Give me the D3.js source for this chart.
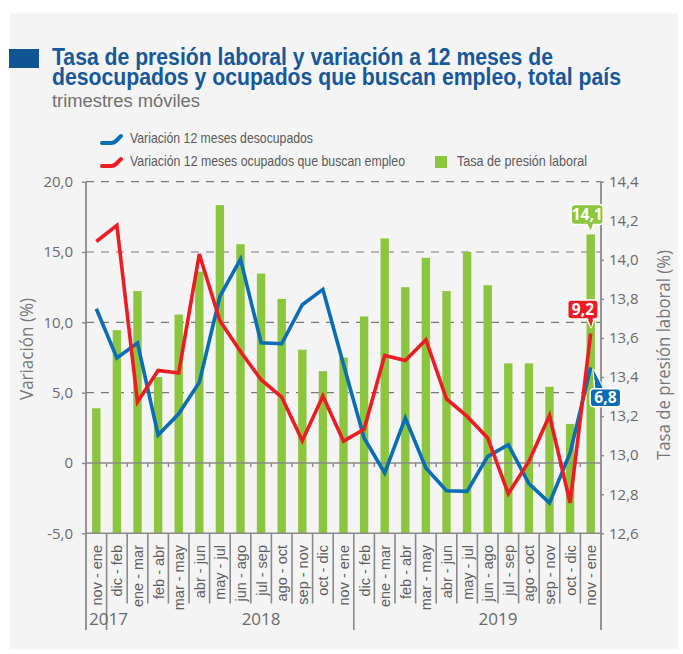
<!DOCTYPE html>
<html>
<head>
<meta charset="utf-8">
<script src="https://cdn.jsdelivr.net/npm/d3@7"></script>
<style>
  html, body { margin: 0; padding: 0; background: #ffffff; }
  svg { display: block; }
</style>
</head>
<body>
<svg id="chart" width="683" height="654"></svg>
<script>
// ---------------- DATA ----------------
const categories = ["nov - ene","dic - feb","ene - mar","feb - abr","mar - may","abr - jun","may - jul","jun - ago","jul - sep","ago - oct","sep - nov","oct - dic","nov - ene","dic - feb","ene - mar","feb - abr","mar - may","abr - jun","may - jul","jun - ago","jul - sep","ago - oct","sep - nov","oct - dic","nov - ene"];
const variacionDesocupados = [10.97,7.46,8.53,1.99,3.50,5.73,11.84,14.5,8.55,8.48,11.25,12.34,7.0,1.78,-0.71,3.2,-0.36,-1.97,-2.02,0.47,1.30,-1.47,-2.84,0.71,6.8];
const variacionOcupadosBuscan = [15.75,16.89,4.34,6.58,6.40,14.85,10.11,7.93,5.92,4.69,1.58,4.76,1.55,2.4,7.65,7.29,8.76,4.55,3.31,1.78,-2.18,0.11,3.38,-2.84,9.2];
const tasaPresion = [13.24,13.64,13.84,13.40,13.72,13.94,14.28,14.08,13.93,13.80,13.54,13.43,13.50,13.71,14.11,13.86,14.01,13.84,14.04,13.87,13.47,13.47,13.35,13.16,14.13];
const leftTicks = [-5,0,5,10,15,20];
const rightTicks = [12.6,12.8,13.0,13.2,13.4,13.6,13.8,14.0,14.2,14.4];
const years = ["2017","2018","2019"];
const yearStartIndex = [0,1,13];
const seriesNames = ["Variación 12 meses desocupados","Variación 12 meses ocupados que buscan empleo","Tasa de presión laboral"];
const titleLines = ["Tasa de presión laboral y variación a 12 meses de","desocupados y ocupados que buscan empleo, total país"];
const subtitle = "trimestres móviles";

// ---------------- LAYOUT ----------------
const C = { blue:"#0a6db5", red:"#ec1c24", green:"#8cc63f", title:"#17589a", grey:"#6a6a6a", axis:"#8a8a8a", grid:"#7a7a7a", bg:"#f4f4f4" };
const L = { x0:86, x1:601, yTop:181.7, yBot:533.3 };
const svg = d3.select("#chart");
const fmt1 = v => d3.format(".1f")(v).replace(".", ",").replace("\u2212", "-");

svg.append("rect").attr("x",10).attr("y",13).attr("width",668).attr("height",636).attr("fill",C.bg);

// Title
svg.append("rect").attr("x",9).attr("y",49).attr("width",30).attr("height",19).attr("fill","#0f5593");
svg.append("text").attr("x",52).attr("y",65).text(titleLines[0])
  .attr("font-family","'Liberation Sans Narrow', 'Arial Narrow', sans-serif").attr("font-weight","bold")
  .attr("font-size",23.5).attr("fill",C.title).attr("textLength",501).attr("lengthAdjust","spacingAndGlyphs");
svg.append("text").attr("x",52).attr("y",85).text(titleLines[1])
  .attr("font-family","'Liberation Sans Narrow', 'Arial Narrow', sans-serif").attr("font-weight","bold")
  .attr("font-size",23.5).attr("fill",C.title).attr("textLength",569).attr("lengthAdjust","spacingAndGlyphs");
svg.append("text").attr("x",52).attr("y",107).text(subtitle)
  .attr("font-family","'Liberation Sans Narrow', sans-serif")
  .attr("font-size",18).attr("fill","#707070").attr("textLength",148).attr("lengthAdjust","spacingAndGlyphs");

// Scales
const x = d3.scaleBand().domain(d3.range(categories.length)).range([L.x0, L.x1]).paddingInner(0).paddingOuter(0);
const cx = i => x(i) + x.bandwidth()/2;
const yL = d3.scaleLinear().domain([-5,20]).range([L.yBot, L.yTop]);
const yR = d3.scaleLinear().domain([12.6,14.4]).range([L.yBot, L.yTop]);

// Gridlines (dashed)
svg.append("g").selectAll("line").data(leftTicks.filter(t => t > 0)).join("line")
  .attr("x1",L.x0).attr("x2",L.x1).attr("y1",d=>yL(d)).attr("y2",d=>yL(d))
  .attr("stroke",C.grid).attr("stroke-width",1.2).attr("stroke-dasharray","8,7");

// Bars
const bw = 8.4;
svg.append("g").selectAll("rect").data(tasaPresion).join("rect")
  .attr("x",(d,i)=>cx(i)-bw/2).attr("width",bw)
  .attr("y",d=>yR(d)).attr("height",d=>yR(12.6)-yR(d))
  .attr("fill",C.green);

// Zero line with ticks
svg.append("line").attr("x1",L.x0).attr("x2",L.x1).attr("y1",yL(0)).attr("y2",yL(0))
  .attr("stroke",C.axis).attr("stroke-width",1.6);
svg.append("g").selectAll("line").data(d3.range(1,categories.length)).join("line")
  .attr("x1",i=>x(i)).attr("x2",i=>x(i)).attr("y1",yL(0)).attr("y2",yL(0)+4)
  .attr("stroke",C.axis).attr("stroke-width",1.4);
// Bottom line
svg.append("line").attr("x1",L.x0).attr("x2",L.x1).attr("y1",L.yBot).attr("y2",L.yBot)
  .attr("stroke",C.axis).attr("stroke-width",1.6);

// Axes
const axL = d3.axisLeft(yL).tickValues(leftTicks).tickSize(4).tickSizeOuter(0).tickPadding(9)
  .tickFormat(d => d === 0 ? "0" : fmt1(d));
const gL = svg.append("g").attr("transform",`translate(${L.x0},0)`).call(axL);
const axR = d3.axisRight(yR).tickValues(rightTicks).tickSize(3).tickSizeOuter(0).tickPadding(5)
  .tickFormat(fmt1);
const gR = svg.append("g").attr("transform",`translate(${L.x1},0)`).call(axR);
[gL,gR].forEach(g => {
  g.select(".domain").remove();
  g.selectAll(".tick line").attr("stroke",C.axis).attr("stroke-width",1.4);
  g.selectAll(".tick text").attr("fill",C.grey).attr("font-family","'Open Sans', sans-serif").attr("font-size",15);
});
svg.append("line").attr("x1",L.x0).attr("x2",L.x0).attr("y1",L.yTop).attr("y2",630).attr("stroke",C.axis).attr("stroke-width",1.8);
svg.append("line").attr("x1",L.x1).attr("x2",L.x1).attr("y1",L.yTop).attr("y2",630).attr("stroke",C.axis).attr("stroke-width",1.8);

// Axis titles
svg.append("text").attr("transform",`translate(33,349) rotate(-90)`).attr("text-anchor","middle")
  .text("Variación (%)").attr("fill","#777").attr("font-family","'Open Sans', sans-serif").attr("font-size",18)
  .attr("textLength",102).attr("lengthAdjust","spacingAndGlyphs");
svg.append("text").attr("transform",`translate(670,355) rotate(-90)`).attr("text-anchor","middle")
  .text("Tasa de presión laboral (%)").attr("fill","#777").attr("font-family","'Open Sans', sans-serif").attr("font-size",18)
  .attr("textLength",210).attr("lengthAdjust","spacingAndGlyphs");

// Category labels and separators
svg.append("g").selectAll("line").data(d3.range(1,categories.length)).join("line")
  .attr("x1",i=>x(i)).attr("x2",i=>x(i)).attr("y1",L.yBot).attr("y2",i=>yearStartIndex.includes(i)?630:603.5)
  .attr("stroke",C.axis).attr("stroke-width",1.6);
svg.append("g").selectAll("text").data(categories).join("text")
  .attr("transform",(d,i)=>`translate(${cx(i)+0.5},545) rotate(-90)`)
  .attr("text-anchor","end").attr("dy","0.35em")
  .text(d=>d).attr("fill","#5f5f5f").attr("font-family","'Liberation Sans Narrow', sans-serif").attr("font-size",14.5);

// Year labels
const yearLabelPos = [x(0)+3, cx(8), (cx(19)+cx(20))/2];
svg.append("g").selectAll("text").data(years).join("text")
  .attr("x",(d,i)=>yearLabelPos[i]).attr("y",625)
  .attr("text-anchor",(d,i)=> i===0 ? "start" : "middle")
  .text(d=>d).attr("fill",C.grey).attr("font-family","'Open Sans', sans-serif").attr("font-size",17);

// Lines
const line = d3.line().x((d,i)=>cx(i)).y(d=>yL(d));
svg.append("path").datum(variacionDesocupados).attr("d",line).attr("fill","none")
  .attr("stroke",C.blue).attr("stroke-width",3.6).attr("stroke-linejoin","miter");
svg.append("path").datum(variacionOcupadosBuscan).attr("d",line).attr("fill","none")
  .attr("stroke",C.red).attr("stroke-width",3.6).attr("stroke-linejoin","miter");

// Legend
const leg = svg.append("g").attr("font-family","'Liberation Sans Narrow', sans-serif").attr("fill","#5a5a5a");
const hook = (y) => `M102,${y+4} L111,${y+4} Q114,${y+4} 116,${y+2} L121,${y-3}`;
leg.append("path").attr("d",hook(139)).attr("stroke",C.blue).attr("stroke-width",4).attr("fill","none").attr("stroke-linecap","round");
leg.append("path").attr("d",hook(162)).attr("stroke",C.red).attr("stroke-width",4).attr("fill","none").attr("stroke-linecap","round");
leg.append("text").attr("x",130).attr("y",142.5).text(seriesNames[0]).attr("font-size",15).attr("fill","#5a5a5a")
  .attr("textLength",183).attr("lengthAdjust","spacingAndGlyphs");
leg.append("text").attr("x",130).attr("y",166).text(seriesNames[1]).attr("font-size",15).attr("fill","#5a5a5a")
  .attr("textLength",275).attr("lengthAdjust","spacingAndGlyphs");
leg.append("rect").attr("x",435).attr("y",156).attr("width",12).attr("height",12).attr("fill",C.green);
leg.append("text").attr("x",457).attr("y",166).text(seriesNames[2]).attr("font-size",15).attr("fill","#5a5a5a")
  .attr("textLength",130).attr("lengthAdjust","spacingAndGlyphs");

// Callouts
function callout(bx, by, w, h, tipX, tipY, baseX1, baseX2, baseY, color, label) {
  const g = svg.append("g");
  g.append("path").attr("d",`M${baseX1},${baseY} L${tipX},${tipY} L${baseX2},${baseY} Z`)
    .attr("fill",color).attr("stroke","#fff").attr("stroke-width",1.5).attr("stroke-linejoin","round");
  g.append("rect").attr("x",bx).attr("y",by).attr("width",w).attr("height",h).attr("rx",3.5)
    .attr("fill",color).attr("stroke","#fff").attr("stroke-width",1.5);
  g.append("path").attr("d",`M${baseX1+1.2},${baseY-1.5} L${tipX},${tipY} L${baseX2-1.2},${baseY-1.5} Z`).attr("fill",color);
  g.append("text").attr("x",bx+w/2).attr("y",by+h/2).attr("dy","0.36em").attr("text-anchor","middle")
    .text(label).attr("fill","#fff").attr("font-weight","bold").attr("font-family","'Open Sans', sans-serif").attr("font-size",15.5);
}
const n = categories.length - 1;
const xe = cx(n);
// green (bar)
{ const ty = yR(tasaPresion[n]);
  callout(xe-19.5, ty-30, 32, 20, xe, ty-4, xe-4.5, xe+3.5, ty-10, C.green, fmt1(tasaPresion[n])); }
// red
{ const ty = yL(variacionOcupadosBuscan[n]);
  callout(xe-23, ty-33.5, 30.5, 19, xe+0.5, ty-6, xe-4, xe+3.5, ty-14.5, C.red, fmt1(variacionOcupadosBuscan[n])); }
// blue
{ const ty = yL(variacionDesocupados[n]);
  callout(xe-0.5, ty+21.5, 30.5, 18, xe+2.5, ty+2, xe+4, xe+13, ty+21.5, C.blue, fmt1(variacionDesocupados[n])); }
</script>
</body>
</html>
